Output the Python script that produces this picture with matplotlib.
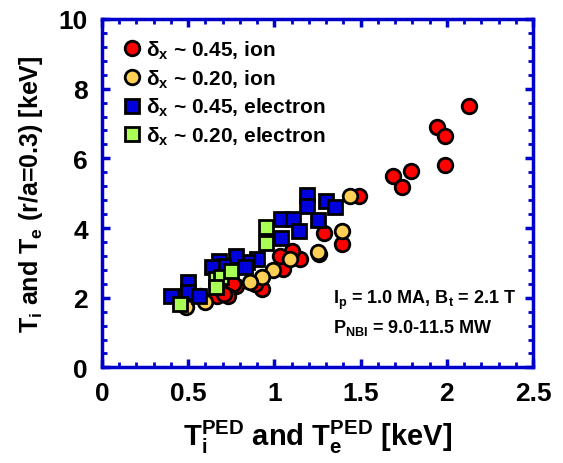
import matplotlib
matplotlib.use("Agg")
import matplotlib.pyplot as plt
from matplotlib.ticker import MultipleLocator

plt.rcParams["font.family"] = ["Liberation Sans", "DejaVu Sans"]
plt.rcParams["font.weight"] = "bold"
plt.rcParams["mathtext.fontset"] = "custom"
plt.rcParams["mathtext.rm"] = "Liberation Sans:bold"
plt.rcParams["mathtext.it"] = "Liberation Sans:bold"
plt.rcParams["mathtext.bf"] = "Liberation Sans:bold"
plt.rcParams["mathtext.default"] = "rm"

# delta_x ~ 0.45, ion
ion45_x = [2.13, 1.94, 1.99, 1.99, 1.79, 1.69, 1.74, 1.49, 1.29, 1.39, 1.26, 1.15,
           1.10, 1.05, 1.03, 0.93, 0.89, 0.78, 0.76, 0.73, 0.67, 0.71, 0.57, 0.44]
ion45_y = [7.49, 6.91, 6.65, 5.82, 5.65, 5.50, 5.18, 4.93, 3.86, 3.55, 3.26, 3.12,
           3.35, 2.83, 3.20, 2.26, 2.40, 2.34, 2.40, 2.05, 2.05, 2.11, 2.05, 2.03]

# delta_x ~ 0.20, ion
ion20_x = [1.44, 1.39, 1.25, 1.09, 0.99, 0.93, 0.86, 0.60, 0.49]
ion20_y = [4.92, 3.92, 3.32, 3.12, 2.80, 2.60, 2.46, 1.88, 1.74]

# delta_x ~ 0.45, electron
el45_x = [1.19, 1.19, 1.30, 1.35, 1.25, 1.04, 1.11, 1.14, 1.04, 0.90, 0.84, 0.78,
          0.83, 0.68, 0.70, 0.64, 0.50, 0.50, 0.56, 0.40]
el45_y = [4.95, 4.64, 4.77, 4.60, 4.23, 4.26, 4.26, 3.92, 3.72, 3.12, 3.03, 3.20,
          2.89, 3.06, 2.92, 2.89, 2.46, 2.17, 2.05, 2.05]

# delta_x ~ 0.20, electron
el20_x = [0.95, 0.95, 0.66, 0.69, 0.75, 0.66, 0.45]
el20_y = [4.03, 3.58, 2.54, 2.59, 2.77, 2.31, 1.82]

x_ticks = [0, 0.5, 1, 1.5, 2, 2.5]
x_tick_labels = ["0", "0.5", "1", "1.5", "2", "2.5"]
y_ticks = [0, 2, 4, 6, 8, 10]

spine_blue = "#0000CC"

fig = plt.figure(figsize=(5.63, 4.64), dpi=100)
ax = fig.add_axes([0.181, 0.206, 0.766, 0.751])

ms = 10.5
ax.plot(ion45_x, ion45_y, "o", ms=ms, mfc="#FF0000", mec="black", mew=2,
        label=r"δ$_x$ ~ 0.45, ion")
ax.plot(ion20_x, ion20_y, "o", ms=ms, mfc="#FFD055", mec="black", mew=2,
        label=r"δ$_x$ ~ 0.20, ion")
ax.plot(el45_x, el45_y, "s", ms=ms * 0.92, mfc="#0000DD", mec="black", mew=2,
        label=r"δ$_x$ ~ 0.45, electron")
ax.plot(el20_x, el20_y, "s", ms=ms * 0.92, mfc="#AAFF55", mec="black", mew=2,
        label=r"δ$_x$ ~ 0.20, electron")

ax.set_xlim(0, 2.5)
ax.set_ylim(0, 10)
ax.set_xticks(x_ticks)
ax.set_xticklabels(x_tick_labels)
ax.set_yticks(y_ticks)
ax.xaxis.set_minor_locator(MultipleLocator(0.1))
ax.yaxis.set_minor_locator(MultipleLocator(0.4))

for s in ax.spines.values():
    s.set_color(spine_blue)
    s.set_linewidth(2.5)

ax.tick_params(which="both", direction="in", top=True, right=True, color=spine_blue)
ax.tick_params(which="major", length=6, width=2.5, labelsize=19, pad=10)
ax.tick_params(which="minor", length=3.5, width=2)

ax.set_xlabel(r"T$_i^{PED}$ and T$_e^{PED}$ [keV]", fontsize=21, fontweight="bold", labelpad=9)
ax.set_ylabel(r"T$_i$ and T$_e$ (r/a=0.3) [keV]", fontsize=18, fontweight="bold", labelpad=10)

ax.text(1.34, 1.95, r"I$_p$ = 1.0 MA, B$_t$ = 2.1 T", fontsize=13, fontweight="bold",
        va="center", ha="left")
ax.text(1.34, 1.15, r"P$_{NBI}$ = 9.0-11.5 MW", fontsize=13, fontweight="bold",
        va="center", ha="left")

ax.legend(loc="upper left", frameon=False, fontsize=15, handletextpad=0.15,
          handlelength=1.0, labelspacing=0.3, borderaxespad=0.55)

fig.savefig("out.png", dpi=100)
